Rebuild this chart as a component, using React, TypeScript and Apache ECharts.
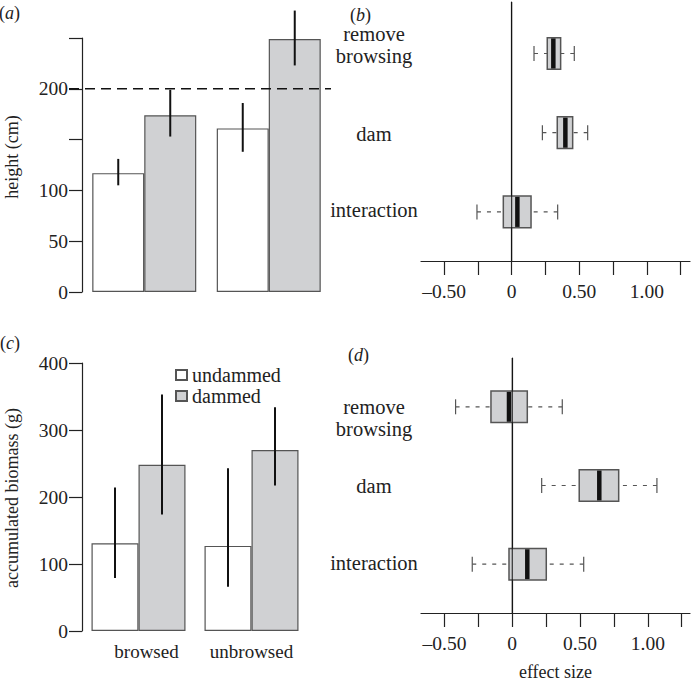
import React, { useEffect, useRef } from 'react';
import * as echarts from 'echarts';

const groupLabels = ['browsed', 'unbrowsed'];
const seriesNames = ['undammed', 'dammed'];

// (a) height (cm)
const heightUndammed = [117, 161];
const heightDammed = [174, 249];
const heightUndammedErr = [[105, 131], [138, 186]];
const heightDammedErr = [[153, 199], [223, 277]];
const heightThreshold = 200;
const heightTickValues = [0, 50, 100, 150, 200, 250];
const heightLabelValues = [0, 50, 100, 200];

// (c) accumulated biomass (g)
const biomassUndammed = [131, 127];
const biomassDammed = [248, 270];
const biomassUndammedErr = [[79, 214], [66, 243]];
const biomassDammedErr = [[174, 353], [217, 334]];
const biomassTickValues = [0, 100, 200, 300, 400];

// (b), (d) effect sizes: [whisker low, q1, median, q3, whisker high]
const effectNames = ['remove\nbrowsing', 'dam', 'interaction'];
const heightEffects = [
  [0.165, 0.263, 0.308, 0.362, 0.463],
  [0.227, 0.337, 0.397, 0.451, 0.562],
  [-0.257, -0.062, 0.042, 0.143, 0.34],
];
const biomassEffects = [
  [-0.418, -0.157, -0.024, 0.111, 0.369],
  [0.217, 0.494, 0.642, 0.785, 1.067],
  [-0.295, -0.024, 0.111, 0.251, 0.527],
];
const effectTickValues = [-0.5, -0.25, 0, 0.25, 0.5, 0.75, 1, 1.25];
const effectLabelValues = [-0.5, 0, 0.5, 1];

const FONT = 'Liberation Serif';
const TXT = '#222';
const GRAY = '#d0d1d3';
const EDGE = '#555';

const fmtEffect = (v: number) =>
  v === 0 ? '0' : (v < 0 ? '\u2013' : '') + Math.abs(v).toFixed(2);

function errorSeries(errs: number[][], offset: number, xi: number) {
  return {
    type: 'custom',
    xAxisIndex: xi,
    yAxisIndex: xi,
    z: 5,
    data: errs.map((e, i) => [i, e[0], e[1]]),
    encode: { x: 0, y: [1, 2] },
    renderItem: (params: any, api: any) => {
      const c = api.value(0);
      const p1 = api.coord([c, api.value(1)]);
      const p2 = api.coord([c, api.value(2)]);
      return {
        type: 'line',
        shape: { x1: p1[0] + offset, y1: p1[1], x2: p1[0] + offset, y2: p2[1] },
        style: { stroke: '#111', lineWidth: 2 },
      };
    },
  };
}

function boxSeries(rows: number[][], idx: number, labelOffsets: number[]) {
  return {
    type: 'custom',
    xAxisIndex: idx,
    yAxisIndex: idx,
    data: rows.map((r, i) => [i + 1, ...r]),
    encode: { x: [1, 2, 3, 4, 5], y: 0 },
    renderItem: (params: any, api: any) => {
      const pos = api.value(0);
      const vals = [1, 2, 3, 4, 5].map((i) => api.value(i));
      const yc = api.coord([vals[2], pos])[1];
      const y1 = api.coord([vals[2], pos - 0.2])[1];
      const y2 = api.coord([vals[2], pos + 0.2])[1];
      const top = Math.min(y1, y2);
      const h = Math.abs(y2 - y1);
      const xs = vals.map((v: number) => api.coord([v, pos])[0]);
      const cs = params.coordSys;
      const x0 = api.coord([0, pos])[0];
      const dash = { stroke: EDGE, lineWidth: 1.2, lineDash: [4, 6] };
      const solid = { stroke: EDGE, lineWidth: 1.2 };
      const di = params.dataIndex;
      const children: any[] = [];
      if (di === 0) {
        children.push({
          type: 'line',
          z2: 100,
          shape: { x1: x0, y1: cs.y, x2: x0, y2: cs.y + cs.height },
          style: { stroke: '#111', lineWidth: 1 },
        });
      }
      children.push(
        { type: 'line', shape: { x1: xs[0], y1: yc, x2: xs[1], y2: yc }, style: dash },
        { type: 'line', shape: { x1: xs[4], y1: yc, x2: xs[3], y2: yc }, style: dash },
        { type: 'line', shape: { x1: xs[0], y1: yc - 7.5, x2: xs[0], y2: yc + 7.5 }, style: solid },
        { type: 'line', shape: { x1: xs[4], y1: yc - 7.5, x2: xs[4], y2: yc + 7.5 }, style: solid },
        {
          type: 'rect',
          shape: { x: xs[1], y: top, width: xs[3] - xs[1], height: h },
          style: { fill: GRAY, stroke: EDGE, lineWidth: 1.5 },
        },
        {
          type: 'line',
          shape: { x1: xs[2], y1: top + 0.8, x2: xs[2], y2: top + h - 0.8 },
          style: { stroke: '#111', lineWidth: 4.5 },
        },
        {
          type: 'text',
          x: cs.x - 47,
          y: yc + labelOffsets[di],
          style: {
            text: effectNames[di],
            fill: TXT,
            fontSize: 20.5,
            fontFamily: FONT,
            lineHeight: 22,
            align: 'center',
            verticalAlign: 'middle',
          },
        }
      );
      return { type: 'group', children };
    },
  };
}

function effectXAxis(grid: number, min: number, max: number, name?: string) {
  return {
    type: 'value',
    gridIndex: grid,
    min,
    max,
    name: name || '',
    nameLocation: 'middle',
    nameGap: 50,
    nameTextStyle: { fontSize: 18, fontFamily: FONT, color: TXT },
    axisLine: { show: true, lineStyle: { color: '#222', width: 1.2 } },
    axisTick: {
      show: true,
      inside: false,
      length: 14,
      customValues: effectTickValues,
      lineStyle: { color: '#222', width: 1.2 },
    },
    axisLabel: {
      customValues: effectLabelValues,
      formatter: fmtEffect,
      margin: 20,
      fontSize: 19.5,
      fontFamily: FONT,
      color: TXT,
    },
    splitLine: { show: false },
  };
}

function effectYAxis(grid: number, min: number, max: number) {
  return {
    type: 'value',
    gridIndex: grid,
    min,
    max,
    inverse: true,
    axisLine: { show: true, lineStyle: { color: '#222', width: 1.2 } },
    axisTick: { show: false },
    axisLabel: { show: false },
    splitLine: { show: false },
  };
}

function barYAxis(grid: number, max: number, ticks: number[], labels: number[]) {
  return {
    type: 'value',
    gridIndex: grid,
    min: 0,
    max,
    axisLine: { show: true, lineStyle: { color: '#222', width: 1.2 } },
    axisTick: {
      show: true,
      inside: false,
      length: 13,
      customValues: ticks,
      lineStyle: { color: '#222', width: 1.2 },
    },
    axisLabel: {
      customValues: labels,
      margin: 14,
      fontSize: 19.5,
      fontFamily: FONT,
      color: TXT,
    },
    splitLine: { show: false },
  };
}

const barStyle = (fill: string) => ({ color: fill, borderColor: EDGE, borderWidth: 1.2 });

function panelLabel(letter: string, x: number, y: number) {
  return {
    type: 'text',
    x,
    y,
    style: {
      text: `{p|(}{i|${letter}}{p|)}`,
      verticalAlign: 'middle',
      align: 'left',
      rich: {
        p: { fontSize: 18, fontFamily: FONT, fill: TXT },
        i: { fontSize: 18, fontFamily: FONT, fontStyle: 'italic', fill: TXT },
      },
    },
  };
}

function yTitle(text: string, x: number, y: number) {
  return {
    type: 'text',
    x,
    y,
    rotation: Math.PI / 2,
    style: {
      text,
      fontSize: 18,
      fontFamily: FONT,
      fill: TXT,
      align: 'center',
      verticalAlign: 'middle',
    },
  };
}

export default function App() {
  const ref = useRef<HTMLDivElement>(null);
  useEffect(() => {
    if (!ref.current) return;
    const chart = echarts.init(ref.current, null, { renderer: 'svg' });
    const option: any = {
      animation: false,
      backgroundColor: '#fff',
      textStyle: { fontFamily: FONT },
      grid: [
        { left: 82, top: 38, width: 249, height: 254 },
        { left: 82, top: 363, width: 226, height: 268 },
        { left: 421, top: 2, width: 269, height: 259 },
        { left: 421, top: 358, width: 269, height: 255 },
      ],
      legend: {
        data: seriesNames,
        orient: 'vertical',
        left: 175,
        top: 365,
        padding: 0,
        itemWidth: 11,
        itemHeight: 10,
        itemGap: 1,
        icon: 'rect',
        textStyle: { fontSize: 20, fontFamily: FONT, color: TXT, lineHeight: 19, padding: [0, 0, 0, 0] },
      },
      xAxis: [
        {
          type: 'category',
          gridIndex: 0,
          data: groupLabels,
          axisLine: { show: false },
          axisTick: { show: false },
          axisLabel: { show: false },
        },
        {
          type: 'category',
          gridIndex: 1,
          data: groupLabels,
          axisLine: { show: false },
          axisTick: { show: false },
          axisLabel: {
            margin: 11,
            formatter: (v: string) => (v === groupLabels[0] ? `{s|${v}}` : `{n|${v}}`),
            rich: {
              s: { fontSize: 19, fontFamily: FONT, color: TXT, padding: [0, 0, 0, 16] },
              n: { fontSize: 19, fontFamily: FONT, color: TXT },
            },
          },
        },
        effectXAxis(2, -0.671, 1.319),
        effectXAxis(3, -0.673, 1.311, 'effect size'),
      ],
      yAxis: [
        barYAxis(0, 250, heightTickValues, heightLabelValues),
        barYAxis(1, 400, biomassTickValues, biomassTickValues),
        effectYAxis(2, 0.35, 3.62),
        effectYAxis(3, 0.38, 3.62),
      ],
      series: [
        {
          name: seriesNames[0],
          type: 'bar',
          xAxisIndex: 0,
          yAxisIndex: 0,
          barWidth: 52,
          barGap: '0%',
          data: heightUndammed,
          itemStyle: barStyle('#ffffff'),
        },
        {
          name: seriesNames[1],
          type: 'bar',
          xAxisIndex: 0,
          yAxisIndex: 0,
          barWidth: 52,
          barGap: '0%',
          data: heightDammed,
          itemStyle: barStyle(GRAY),
        },
        errorSeries(heightUndammedErr, -26, 0),
        errorSeries(heightDammedErr, 26, 0),
        {
          type: 'custom',
          xAxisIndex: 0,
          yAxisIndex: 0,
          z: 6,
          data: [[0, heightThreshold]],
          encode: { x: 0, y: 1 },
          renderItem: (params: any, api: any) => {
            const y = api.coord([0, api.value(1)])[1];
            const cs = params.coordSys;
            return {
              type: 'line',
              shape: { x1: cs.x - 13, y1: y, x2: cs.x + cs.width, y2: y },
              style: { stroke: '#111', lineWidth: 1.6, lineDash: [10, 6] },
            };
          },
        },
        {
          name: seriesNames[0],
          type: 'bar',
          xAxisIndex: 1,
          yAxisIndex: 1,
          barWidth: 47,
          barGap: '0%',
          data: biomassUndammed,
          itemStyle: barStyle('#ffffff'),
        },
        {
          name: seriesNames[1],
          type: 'bar',
          xAxisIndex: 1,
          yAxisIndex: 1,
          barWidth: 47,
          barGap: '0%',
          data: biomassDammed,
          itemStyle: barStyle(GRAY),
        },
        errorSeries(biomassUndammedErr, -23.5, 1),
        errorSeries(biomassDammedErr, 23.5, 1),
        boxSeries(heightEffects, 2, [-8, 1, -2]),
        boxSeries(biomassEffects, 3, [11.5, 0, -1]),
      ],
      graphic: [
        panelLabel('a', -1, 13),
        panelLabel('b', 350, 15),
        panelLabel('c', 0, 343),
        panelLabel('d', 348, 355),
        yTitle('height (cm)', 12, 157),
        yTitle('accumulated biomass (g)', 12, 498),
      ],
    };
    chart.setOption(option);
    return () => chart.dispose();
  }, []);
  return (
    <div
      ref={ref}
      style={{ position: 'fixed', left: 0, top: 0, width: 692, height: 685, background: '#fff' }}
    />
  );
}
